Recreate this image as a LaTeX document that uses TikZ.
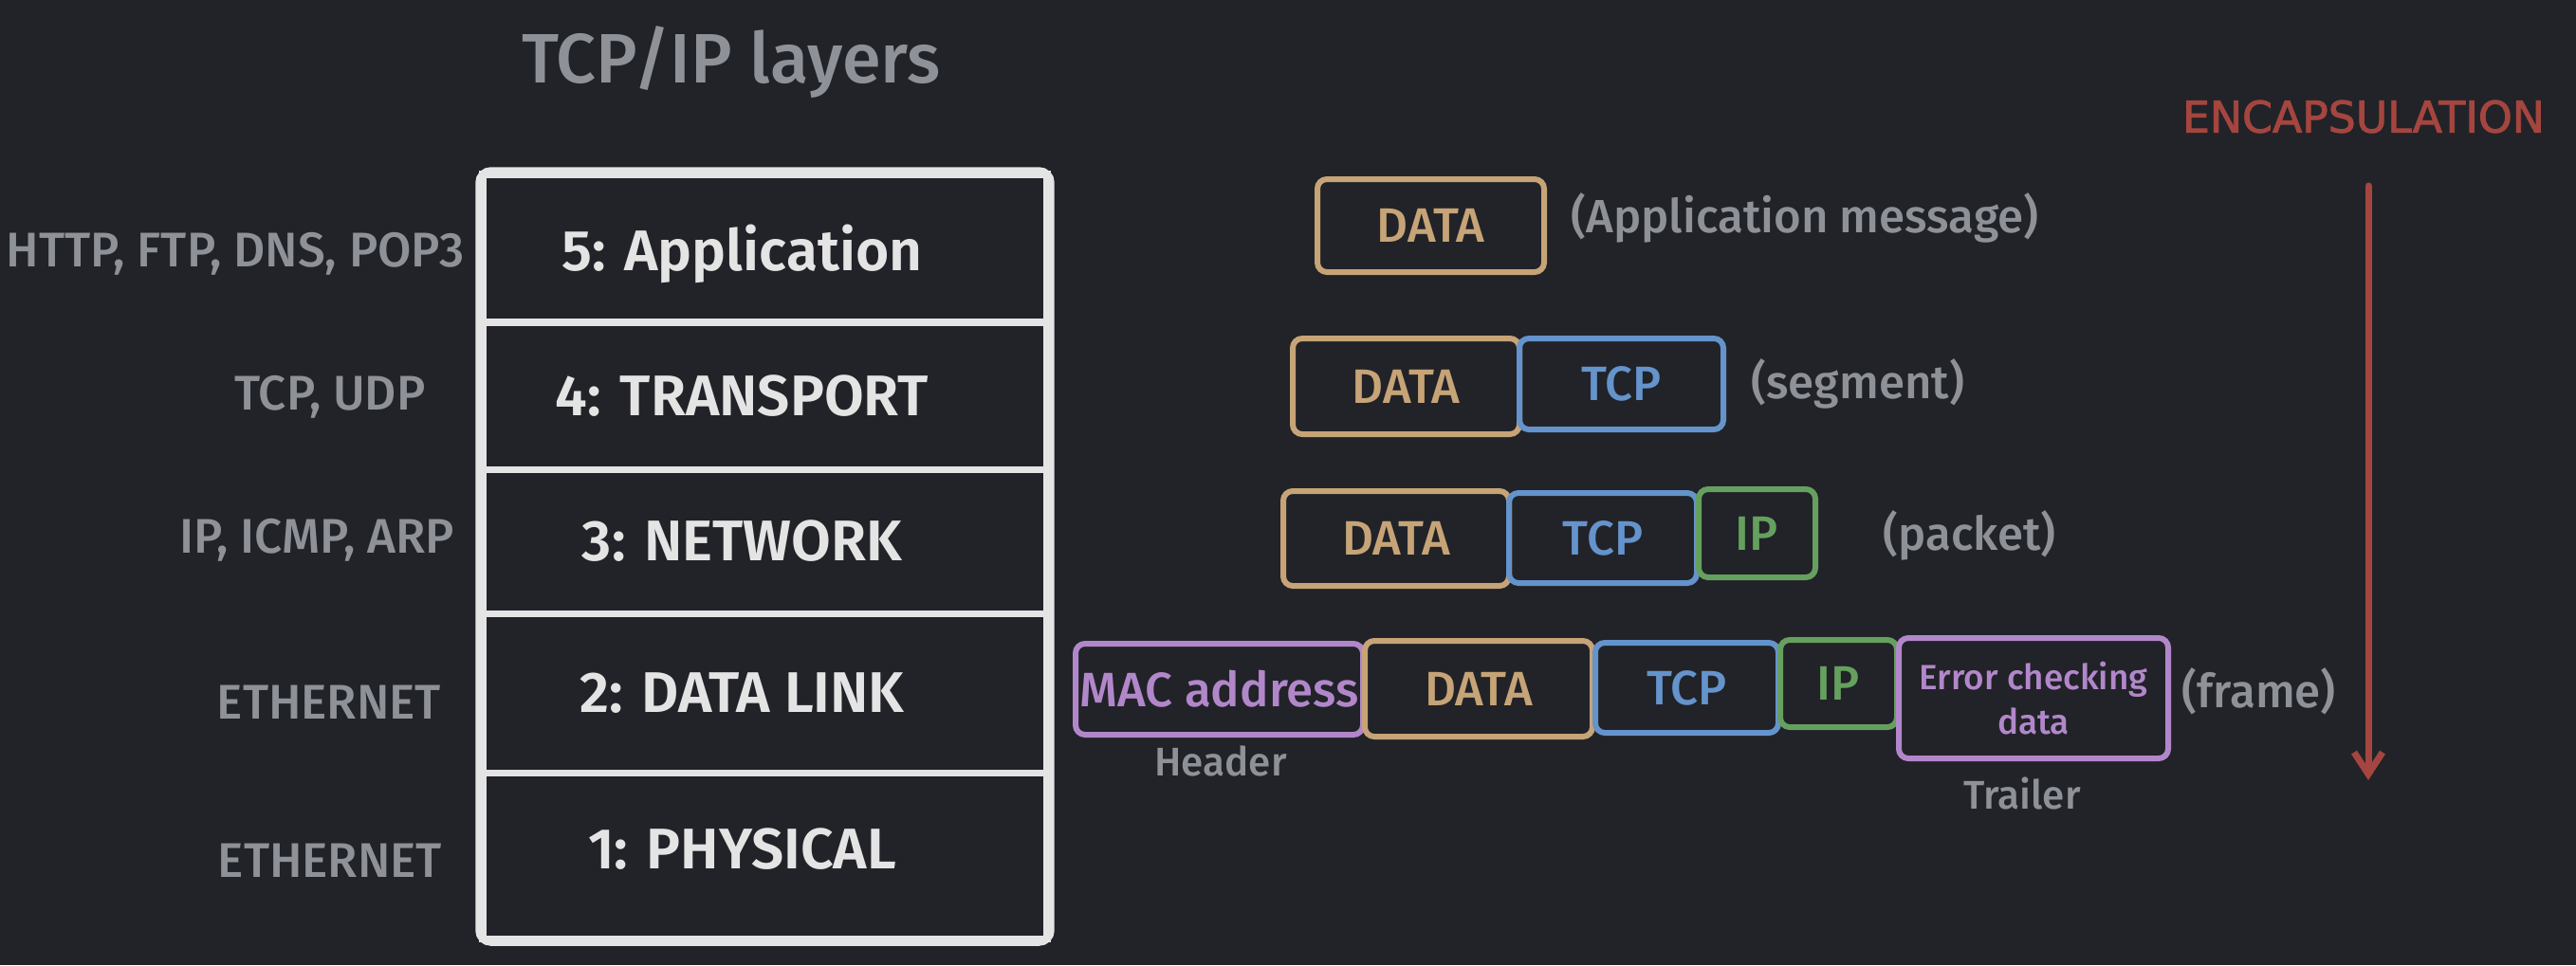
\documentclass[tikz,border=0pt]{standalone}
\usepackage{fontspec}
\setmainfont{Fira Sans}[UprightFont={* Medium},BoldFont={* SemiBold}]
\newfontfamily\encfont{DejaVu Sans}[FakeBold=2]
\usepackage{tikz}
\usetikzlibrary{calc,shapes,arrows.meta,positioning}

\definecolor{bgdark}{RGB}{33,35,40}
\definecolor{labelgray}{RGB}{142,146,152}
\definecolor{layerwhite}{RGB}{228,228,228}
\definecolor{datatan}{RGB}{198,164,119}
\definecolor{tcpblue}{RGB}{101,147,203}
\definecolor{ipgreen}{RGB}{102,160,94}
\definecolor{macpurple}{RGB}{178,135,202}
\definecolor{encred}{RGB}{165,69,63}

\tikzset{
  layer/.style={draw=layerwhite,line width=2pt,minimum width=5.95cm,inner sep=0pt},
  layertext/.style={text=layerwhite,font=\bfseries\fontsize{17.2}{20}\selectfont},
  proto/.style={text=labelgray,font=\fontsize{14.6}{17}\selectfont},
  pdu/.style={line width=1.7pt,rounded corners=0.1cm,inner sep=0pt,font=\fontsize{14.5}{17}\selectfont},
  databox/.style={pdu,draw=datatan,text=datatan},
  tcpbox/.style={pdu,draw=tcpblue,text=tcpblue},
  ipbox/.style={pdu,draw=ipgreen,text=ipgreen},
  macbox/.style={pdu,draw=macpurple,text=macpurple},
  pduname/.style={text=labelgray,font=\fontsize{14}{17}\selectfont},
  partname/.style={text=labelgray,font=\fontsize{12}{14}\selectfont}
}

\begin{document}
\begin{tikzpicture}
    \fill[bgdark] (0,0) rectangle (27.16,-10.18);
    \useasboundingbox (0,0) rectangle (27.16,-10.18);

    \node (title) at (7.71,-0.66) [text=labelgray,font=\fontsize{21}{25}\selectfont] {TCP/IP layers};

    % the five layers
    \node (l5) at (8.065,-2.62) [layer,minimum height=1.56cm] {};
    \node (l4) at (8.065,-4.175) [layer,minimum height=1.55cm] {};
    \node (l3) at (8.065,-5.71) [layer,minimum height=1.52cm] {};
    \node (l2) at (8.065,-7.31) [layer,minimum height=1.68cm] {};
    \node (l1) at (8.065,-9.025) [layer,minimum height=1.75cm] {};
    \draw[layerwhite,line width=2.4pt,rounded corners=0.12cm] (l5.north west) rectangle (l1.south east);

      \node[layertext,xshift=-0.24cm,yshift=-0.06cm] (l5t) at (l5.center) {5: Application};
      \node[layertext,xshift=-0.24cm] (l4t) at (l4.center) {4: TRANSPORT};
      \node[layertext,xshift=-0.24cm] (l3t) at (l3.center) {3: NETWORK};
      \node[layertext,xshift=-0.24cm] (l2t) at (l2.center) {2: DATA LINK};
      \node[layertext,xshift=-0.24cm,yshift=0.07cm] (l1t) at (l1.center) {1: PHYSICAL};

      \node[proto] (p5) at (2.48,-2.68) {HTTP, FTP, DNS, POP3};
      \node[proto] (p4) at (3.48,-4.19) {TCP, UDP};
      \node[proto] (p3) at (3.34,-5.70) {IP, ICMP, ARP};
      \node[proto] (p2) at (3.47,-7.41) {ETHERNET};
      \node[proto] (p1) at (3.48,-9.08) {ETHERNET};

    % message
    \node (data1) at (15.085,-2.38) [databox,minimum width=2.39cm,minimum height=0.98cm] {DATA};
    \node[pduname,anchor=west] (msg) at (16.44,-2.30) {(Application message)};

    % segment
    \node (data2) at (14.825,-4.075) [databox,minimum width=2.39cm,minimum height=1.01cm] {DATA};
    \node (tcp2) at (17.095,-4.05) [tcpbox,minimum width=2.15cm,minimum height=0.96cm] {TCP};
    \node[pduname,anchor=west] (seg) at (18.34,-4.05) {(segment)};

    % packet
    \node (data3) at (14.72,-5.68) [databox,minimum width=2.38cm,minimum height=1.00cm] {DATA};
    \node (tcp3) at (16.90,-5.675) [tcpbox,minimum width=1.98cm,minimum height=0.95cm] {TCP};
    \node (ip3) at (18.525,-5.625) [ipbox,minimum width=1.23cm,minimum height=0.93cm] {IP};
    \node[pduname,anchor=west] (pkt) at (19.73,-5.65) {(packet)};

    % frame
    \node (mac) at (12.855,-7.27) [macbox,minimum width=3.03cm,minimum height=0.96cm] {MAC address};
    \node (data4) at (15.59,-7.265) [databox,minimum width=2.40cm,minimum height=1.01cm] {DATA};
    \node (tcp4) at (17.785,-7.255) [tcpbox,minimum width=1.93cm,minimum height=0.95cm] {TCP};
    \node (ip4) at (19.385,-7.21) [ipbox,minimum width=1.23cm,minimum height=0.92cm] {IP};
    \node (err) at (21.44,-7.365) [macbox,minimum width=2.84cm,minimum height=1.27cm,align=center,font=\fontsize{10.5}{13.5}\selectfont] {Error checking\\data};
    \node[pduname,anchor=west] (frm) at (22.88,-7.29) {(frame)};

      \node[partname] (hdr) at (12.87,-8.03) {Header};
      \node[partname] (trl) at (21.32,-8.37) {Trailer};

    % encapsulation arrow
    \node (enc) at (24.92,-1.23) [text=encred,font=\encfont\fontsize{13}{15}\selectfont] {ENCAPSULATION};
    \coordinate (encTop) at (24.97,-1.96);
    \coordinate (encBot) at (24.97,-8.23);
    \draw[-{Straight Barb[length=0.23cm,width=0.3cm]},encred,line width=2pt,line cap=round] (encTop)--(encBot);

\end{tikzpicture}
\end{document}
